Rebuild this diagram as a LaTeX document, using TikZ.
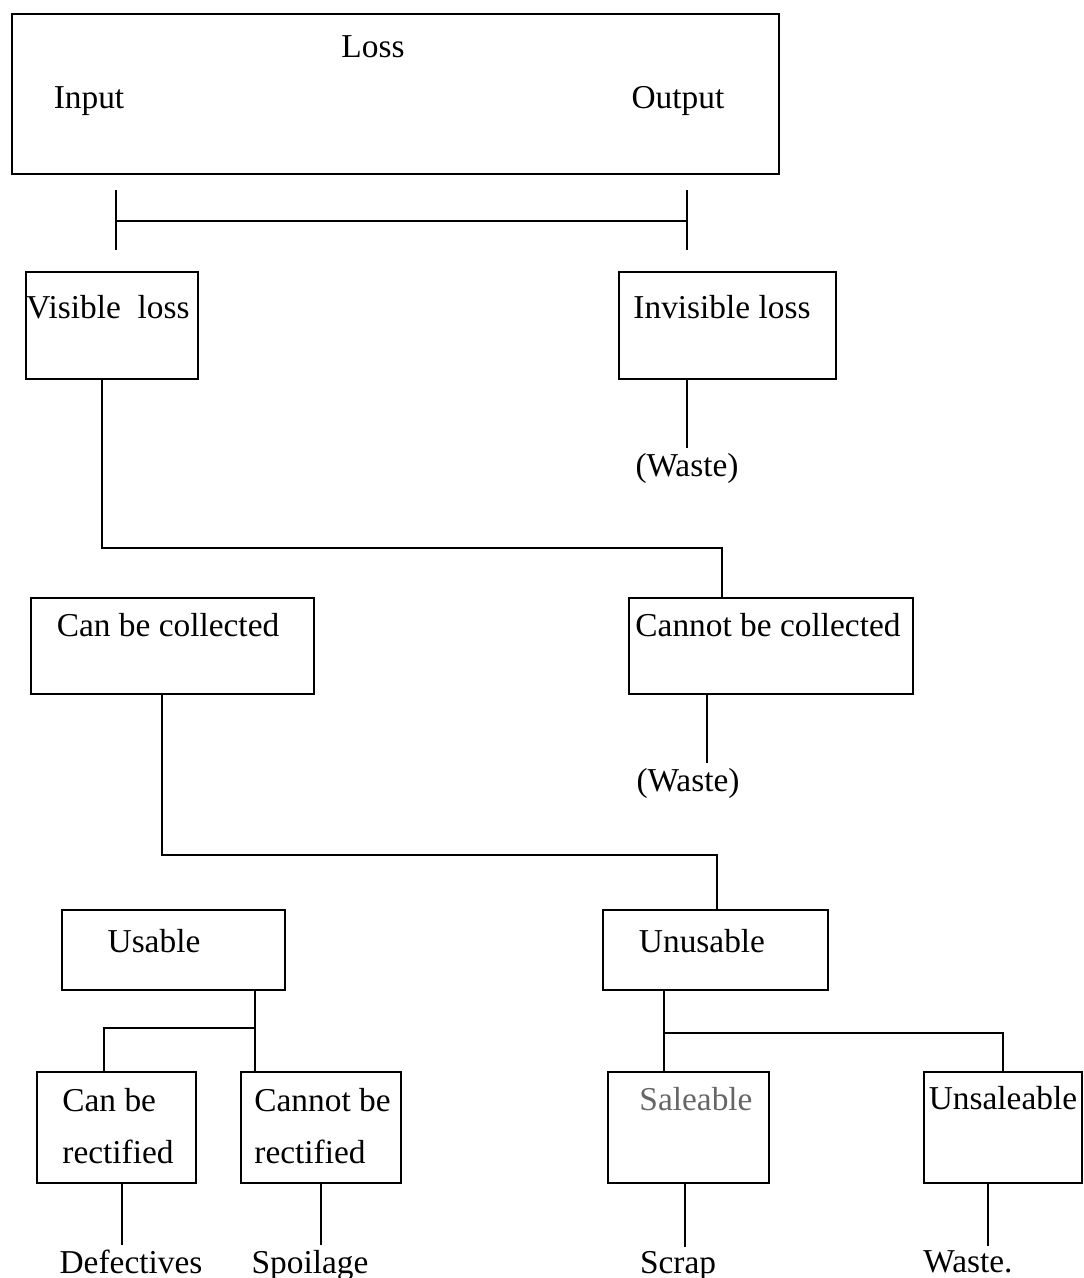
\documentclass[tikz,border=0pt]{standalone}
\usepackage{fontspec}
\setmainfont{Liberation Serif}
\usetikzlibrary{positioning}
\tikzset{
box/.style={ % Sets the properties for each box
draw,
line width=1.3pt,
inner sep=0pt},
txt/.style={ % Labels, placed on their baseline
anchor=base,
inner sep=2pt},
every node/.style={font=\fontsize{19}{29.5}\selectfont}}

\begin{document}
\begin{tikzpicture}[x=0.02cm, y=-0.02cm, line width=1pt]
\useasboundingbox (0,0) rectangle (1083,1278);
% boxes
\node[box, minimum width=15.34cm, minimum height=3.2cm] (loss) at (395.5,94) {};
\node[box, minimum width=3.44cm, minimum height=2.14cm] (vis) at (112,325.5) {};
\node[box, minimum width=4.34cm, minimum height=2.14cm] (invis) at (727.5,325.5) {};
\node[box, minimum width=5.66cm, minimum height=1.92cm] (canc) at (172.5,646) {};
\node[box, minimum width=5.68cm, minimum height=1.92cm] (cannc) at (771,646) {};
\node[box, minimum width=4.46cm, minimum height=1.6cm] (usable) at (173.5,950) {};
\node[box, minimum width=4.5cm, minimum height=1.6cm] (unusable) at (715.5,950) {};
\node[box, minimum width=3.18cm, minimum height=2.22cm] (canr) at (116.5,1127.5) {};
\node[box, minimum width=3.2cm, minimum height=2.22cm] (cannr) at (321,1127.5) {};
\node[box, minimum width=3.22cm, minimum height=2.22cm] (sale) at (688.5,1127.5) {};
\node[box, minimum width=3.16cm, minimum height=2.22cm] (unsale) at (1003,1127.5) {};
% texts
\node[txt] (lossT) at (373,57) {Loss};
\node[txt] (input) at (89,108) {Input};
\node[txt] (output) at (678,108) {Output};
\node[txt] (visT) at (108,318) {Visible\ \ loss};
\node[txt] (invisT) at (722,318) {Invisible loss};
\node[txt] (waste1) at (687,476) {(Waste)};
\node[txt] (cancT) at (168,636) {Can be collected};
\node[txt] (canncT) at (768,636) {Cannot be collected};
\node[txt] (waste2) at (688,791) {(Waste)};
\node[txt] (usableT) at (154,952) {Usable};
\node[txt] (unusableT) at (702,952) {Unusable};
\node[anchor=west, align=left, inner sep=2pt] (canrT) at (58,1126) {Can be\\rectified};
\node[anchor=west, align=left, inner sep=2pt] (cannrT) at (250,1126) {Cannot be\\rectified};
\node[txt, text=black!60] (saleT) at (696,1110) {Saleable};
\node[txt] (unsaleT) at (1003,1109) {Unsaleable};
\node[txt] (defect) at (131,1273) {Defectives};
\node[txt] (spoil) at (310,1273) {Spoilage};
\node[txt] (scrap) at (678,1273) {Scrap};
\node[txt] (waste3) at (968,1272) {Waste.};
% input / output bracket
\coordinate (inL) at (116,221);
\coordinate (outR) at (687,221);
\draw (inL) -- (outR);
\draw (inL) ++(0,-31) -- ++(0,60);
\draw (outR) ++(0,-31) -- ++(0,60);
% connectors
\draw (invis.south -| 687,0) -- (waste1.north -| 687,0);
\draw (vis.south -| 102,0) -- (102,548) -| (cannc.north -| 722,0);
\draw (cannc.south -| 707,0) -- (waste2.north -| 707,0);
\draw (canc.south -| 162,0) -- (162,855) -| (unusable.north -| 717,0);
\coordinate (usj) at (255,1028);
\coordinate (unj) at (664,1033);
\draw (usable.south -| usj) -- (cannr.north -| usj);
\draw (usj) -| (canr.north -| 104,0);
\draw (unusable.south -| unj) -- (sale.north -| unj);
\draw (unj) -| (unsale.north -| 1003,0);
\draw (canr.south -| 122,0) -- (defect.north -| 122,0);
\draw (cannr.south -| 321,0) -- (spoil.north -| 321,0);
\draw (sale.south -| 685,0) -- (scrap.north -| 685,0);
\draw (unsale.south -| 988,0) -- (waste3.north -| 988,0);
\end{tikzpicture}
\end{document}
